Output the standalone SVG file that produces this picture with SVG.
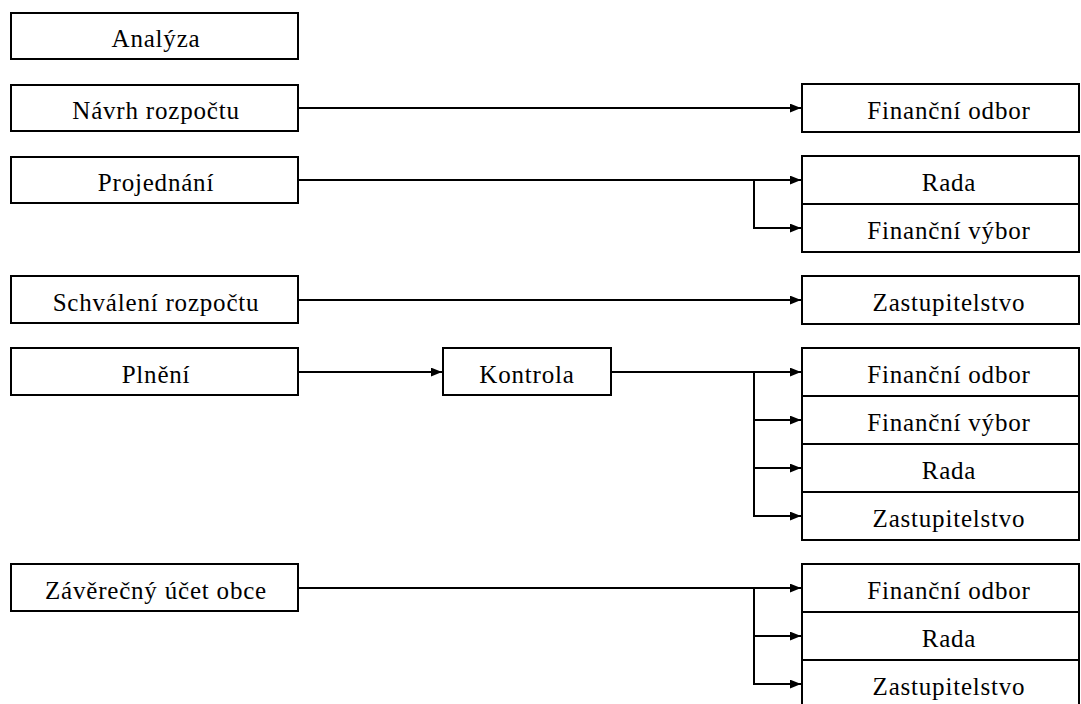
<svg xmlns="http://www.w3.org/2000/svg" width="1081" height="704" viewBox="0 0 1081 704">
<style>
rect{fill:#fff;stroke:#000;stroke-width:2}
text{font-family:"Liberation Serif","Times New Roman",serif;font-size:25px;letter-spacing:0.8px;text-anchor:middle;fill:#000}
.c{fill:none;stroke:#000;stroke-width:2}
</style>
<defs>
<marker id="ah" viewBox="0 0 10 8" refX="10" refY="4" markerWidth="11" markerHeight="9" markerUnits="userSpaceOnUse" orient="auto">
<path d="M0,0 L10,4 L0,8 z" fill="#000"/>
</marker>
</defs>
<g id="connectors">
<path class="c" d="M298,108 H801" marker-end="url(#ah)"/>
<path class="c" d="M298,180 H801" marker-end="url(#ah)"/>
<path class="c" d="M754,180 V228 H801" marker-end="url(#ah)"/>
<path class="c" d="M298,300 H801" marker-end="url(#ah)"/>
<path class="c" d="M298,372 H442" marker-end="url(#ah)"/>
<path class="c" d="M611,372 H801" marker-end="url(#ah)"/>
<path class="c" d="M754,372 V420 H801" marker-end="url(#ah)"/>
<path class="c" d="M754,420 V468 H801" marker-end="url(#ah)"/>
<path class="c" d="M754,468 V516 H801" marker-end="url(#ah)"/>
<path class="c" d="M298,588 H801" marker-end="url(#ah)"/>
<path class="c" d="M754,588 V636 H801" marker-end="url(#ah)"/>
<path class="c" d="M754,636 V684 H801" marker-end="url(#ah)"/>
</g>
<g id="analyza"><rect x="11" y="13" width="287" height="46"/><text x="156" y="47">Analýza</text></g>
<g id="navrh"><rect x="11" y="85" width="287" height="46"/><text x="156" y="119">Návrh rozpočtu</text></g>
<g id="projednani"><rect x="11" y="157" width="287" height="46"/><text x="156" y="191">Projednání</text></g>
<g id="schvaleni"><rect x="11" y="276" width="287" height="47"/><text x="156" y="311">Schválení rozpočtu</text></g>
<g id="plneni"><rect x="11" y="348" width="287" height="47"/><text x="156" y="383">Plnění</text></g>
<g id="zaverecny"><rect x="11" y="564" width="287" height="47"/><text x="156" y="599">Závěrečný účet obce</text></g>
<g id="kontrola"><rect x="443" y="348" width="168" height="47"/><text x="527" y="383">Kontrola</text></g>
<g id="fin-odbor-1"><rect x="802" y="84" width="277" height="48"/><text x="949" y="119">Finanční odbor</text></g>
<g id="rada-1"><rect x="802" y="156" width="277" height="48"/><text x="949" y="191">Rada</text></g>
<g id="fin-vybor-1"><rect x="802" y="204" width="277" height="48"/><text x="949" y="239">Finanční výbor</text></g>
<g id="zastup-1"><rect x="802" y="276" width="277" height="48"/><text x="949" y="311">Zastupitelstvo</text></g>
<g id="fin-odbor-2"><rect x="802" y="348" width="277" height="48"/><text x="949" y="383">Finanční odbor</text></g>
<g id="fin-vybor-2"><rect x="802" y="396" width="277" height="48"/><text x="949" y="431">Finanční výbor</text></g>
<g id="rada-2"><rect x="802" y="444" width="277" height="48"/><text x="949" y="479">Rada</text></g>
<g id="zastup-2"><rect x="802" y="492" width="277" height="48"/><text x="949" y="527">Zastupitelstvo</text></g>
<g id="fin-odbor-3"><rect x="802" y="564" width="277" height="48"/><text x="949" y="599">Finanční odbor</text></g>
<g id="rada-3"><rect x="802" y="612" width="277" height="48"/><text x="949" y="647">Rada</text></g>
<g id="zastup-3"><rect x="802" y="660" width="277" height="48"/><text x="949" y="695">Zastupitelstvo</text></g>
</svg>
